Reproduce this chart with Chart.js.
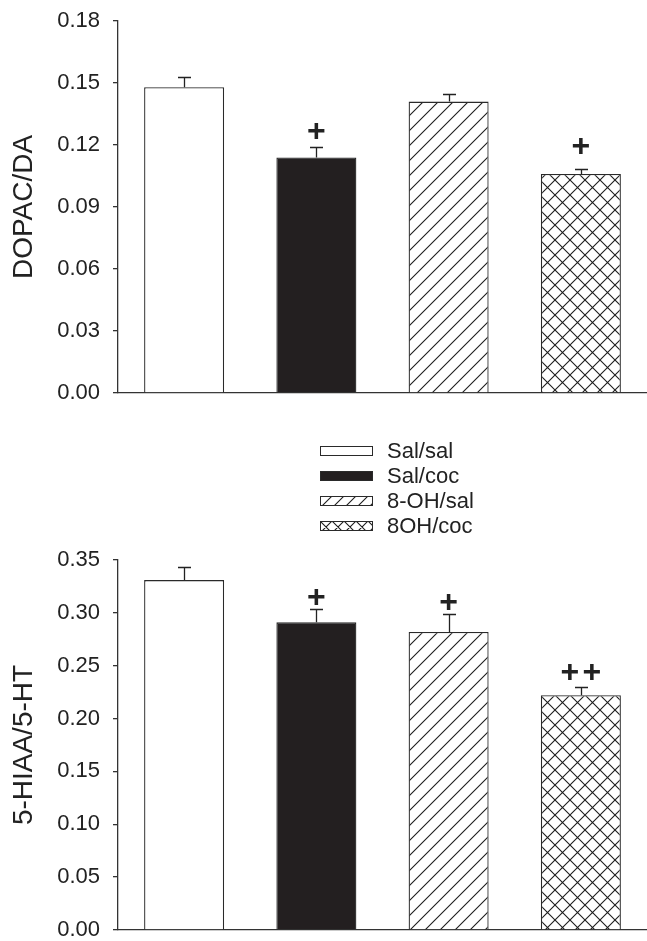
<!DOCTYPE html>
<html>
<head>
<meta charset="utf-8">
<script src="https://cdn.jsdelivr.net/npm/chart.js@4.4.0/dist/chart.umd.min.js"></script>
<style>
  html, body { margin: 0; padding: 0; background: #fff; width: 647px; height: 941px; overflow: hidden; }
  #c1 { position: absolute; left: 0; top: 0; }
  #c2 { position: absolute; left: 0; top: 530px; }
  #legend { position: absolute; left: 320px; top: 438px; font-family: 'Liberation Sans', Arial, sans-serif; font-size: 22px; color: #222; }
  .row { display: flex; align-items: center; height: 25px; }
  .row canvas { display: block; margin-right: 14px; }
</style>
</head>
<body>
<canvas id="c1" width="647" height="420"></canvas>
<div id="legend"></div>
<canvas id="c2" width="647" height="411"></canvas>
<script>
// ---- data ----
const categories = ['Sal/sal', 'Sal/coc', '8-OH/sal', '8OH/coc'];

const dopacValues = [0.148, 0.114, 0.141, 0.106];
const dopacErrors = [0.005, 0.005, 0.0035, 0.0026];
const dopacMarks  = ['', '+', '', '+'];
const dopacTicks  = [0.00, 0.03, 0.06, 0.09, 0.12, 0.15, 0.18];

const hiaaValues = [0.331, 0.291, 0.282, 0.222];
const hiaaErrors = [0.012, 0.013, 0.017, 0.008];
const hiaaMarks  = ['', '+', '+', '++'];
const hiaaTicks  = [0.00, 0.05, 0.10, 0.15, 0.20, 0.25, 0.30, 0.35];

// ---- styles ----
const INK = '#222';
const FONT = "'Liberation Sans', Arial, sans-serif";

function makeTile(p, kind) {
  const c = document.createElement('canvas');
  c.width = p; c.height = p;
  const x = c.getContext('2d');
  x.fillStyle = '#fff';
  x.fillRect(0, 0, p, p);
  x.strokeStyle = '#1e1e1e';
  x.lineWidth = 1.1;
  x.beginPath();
  // "/" lines
  x.moveTo(-1, p + 1); x.lineTo(p + 1, -1);
  x.moveTo(-p - 1, p + 1); x.lineTo(p + 1, -p - 1);
  x.moveTo(-1, 2 * p + 1); x.lineTo(2 * p + 1, -1);
  if (kind === 'cross') {
    x.moveTo(-1, -1); x.lineTo(p + 1, p + 1);
    x.moveTo(-p - 1, -1); x.lineTo(p + 1, 2 * p + 1);
    x.moveTo(-1, -p - 1); x.lineTo(2 * p + 1, p + 1);
  }
  x.stroke();
  return c;
}
function fillFor(i, ctx, p) {
  if (i === 0) return '#ffffff';
  if (i === 1) return '#231f20';
  return ctx.createPattern(makeTile(p, i === 2 ? 'hatch' : 'cross'), 'repeat');
}

const errorBarPlugin = {
  id: 'errbars',
  afterDatasetsDraw(chart, args, opts) {
    const meta = chart.getDatasetMeta(0);
    const y = chart.scales.y;
    const ctx = chart.ctx;
    ctx.save();
    meta.data.forEach((bar, i) => {
      const v = opts.values[i], e = opts.errors[i];
      const yBar = y.getPixelForValue(v);
      const yTop = y.getPixelForValue(v + e);
      const bx = Math.round(bar.x) + 0.5;
      ctx.strokeStyle = INK;
      ctx.lineWidth = 1.3;
      ctx.beginPath();
      ctx.moveTo(bx, yBar);
      ctx.lineTo(bx, Math.round(yTop) + 0.5);
      ctx.moveTo(bx - 6.5, Math.round(yTop) + 0.5);
      ctx.lineTo(bx + 6.5, Math.round(yTop) + 0.5);
      ctx.stroke();
      const m = opts.marks[i];
      if (m) {
        ctx.fillStyle = INK;
        ctx.font = 'bold 32px ' + FONT;
        ctx.textAlign = 'center';
        ctx.textBaseline = 'middle';
        const chars = m.split('');
        chars.forEach((ch, j) => {
          const cx = bar.x + (j - (chars.length - 1) / 2) * 22;
          ctx.fillText(ch, cx, yTop - opts.markOffset[i]);
        });
      }
    });
    ctx.restore();
  }
};

function buildChart(id, values, errors, marks, ticks, title, pad, markOffset) {
  const canvas = document.getElementById(id);
  const ctx = canvas.getContext('2d');
  const fills = values.map((_, i) => fillFor(i, ctx, 15));
  return new Chart(ctx, {
    type: 'bar',
    data: {
      labels: categories,
      datasets: [{
        data: values,
        backgroundColor: fills,
        borderColor: '#2a2a2a',
        borderWidth: 1.3,
        borderSkipped: 'bottom',
        categoryPercentage: 1,
        barPercentage: 0.605
      }]
    },
    options: {
      responsive: false,
      animation: false,
      devicePixelRatio: 1,
      layout: { padding: { top: pad.top, bottom: pad.bottom, left: 0, right: 0 } },
      plugins: {
        legend: { display: false },
        tooltip: { enabled: false },
        errbars: { values: values, errors: errors, marks: marks, markOffset: markOffset }
      },
      scales: {
        x: {
          type: 'category',
          offset: true,
          grid: { display: false },
          border: { display: true, color: '#333', width: 1.3 },
          ticks: { display: false },
          afterFit(s) { s.height = 0; s.paddingLeft = 0; s.paddingRight = 0; }
        },
        y: {
          min: ticks[0],
          max: ticks[ticks.length - 1],
          afterBuildTicks(s) { s.ticks = ticks.map(v => ({ value: v })); },
          grid: { drawOnChartArea: false, drawTicks: true, tickLength: 5, color: '#333', lineWidth: 1.3 },
          border: { display: true, color: '#333', width: 1.3 },
          ticks: {
            padding: 13,
            color: INK,
            font: { family: FONT, size: 22 },
            callback: v => Number(v).toFixed(2)
          },
          title: {
            display: true,
            text: title,
            color: INK,
            font: { family: FONT, size: 28 },
            padding: { top: 7, bottom: 0 }
          },
          afterFit(s) { s.width = 118; s.paddingTop = 0; s.paddingBottom = 0; }
        }
      }
    },
    plugins: [errorBarPlugin]
  });
}

buildChart('c1', dopacValues, dopacErrors, dopacMarks, dopacTicks, 'DOPAC/DA',
  { top: 21, bottom: 27 }, [15, 15, 15, 21]);
buildChart('c2', hiaaValues, hiaaErrors, hiaaMarks, hiaaTicks, '5-HIAA/5-HT',
  { top: 30, bottom: 11 }, [10, 10, 11, 14]);

// ---- legend ----
const legend = document.getElementById('legend');
categories.forEach((name, i) => {
  const row = document.createElement('div');
  row.className = 'row';
  const sw = document.createElement('canvas');
  sw.width = 53; sw.height = 10;
  const sctx = sw.getContext('2d');
  sctx.fillStyle = fillFor(i, sctx, 12);
  sctx.fillRect(0, 0, 53, 10);
  sctx.strokeStyle = '#2a2a2a';
  sctx.lineWidth = 1;
  sctx.strokeRect(0.5, 0.5, 52, 9);
  const label = document.createElement('span');
  label.textContent = name;
  row.appendChild(sw);
  row.appendChild(label);
  legend.appendChild(row);
});
</script>
</body>
</html>
